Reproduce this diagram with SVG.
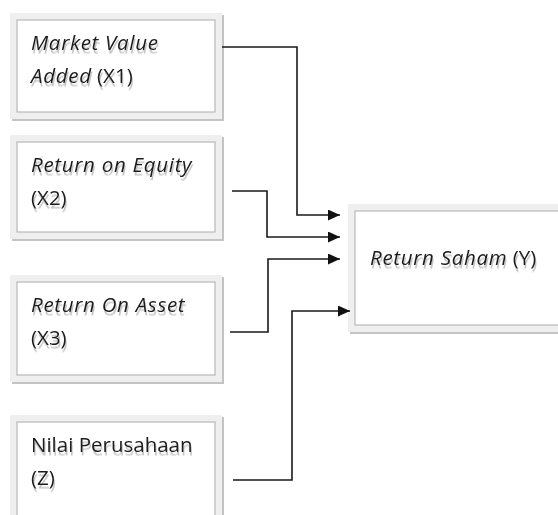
<svg xmlns="http://www.w3.org/2000/svg" width="558" height="515" viewBox="0 0 558 515">
<defs>
<style>
.shadow{fill:#c4c4c4}
.frame{fill:#efefef}
.inner{fill:#ffffff;stroke:#b8b8b8;stroke-width:1.2}
.t{font-family:"Open Sans","Liberation Sans",sans-serif;font-size:20.5px;fill:#1a1a1a;filter:url(#ts)}
.i{font-style:italic;letter-spacing:0.7px}
.c{fill:none;stroke:#1a1a1a;stroke-width:1.6}
</style>
<filter id="ts" x="-10%" y="-30%" width="130%" height="180%">
<feDropShadow dx="1" dy="3.5" stdDeviation="0.7" flood-color="#888" flood-opacity="0.5"/>
</filter>
<marker id="ah" viewBox="0 0 12 11" refX="12" refY="5.5" markerWidth="12" markerHeight="11" markerUnits="userSpaceOnUse" orient="auto">
<path d="M0,0 L12,5.5 L0,11 Z" fill="#111"/>
</marker>
</defs>
<rect width="558" height="515" fill="#ffffff"/>
<g id="x1">
<rect class="shadow" x="12" y="15" width="212" height="106"/>
<rect class="frame" x="10" y="13" width="212" height="106"/>
<rect class="inner" x="17" y="20" width="198" height="92"/>
<text class="t i" x="31" y="50">Market Value</text>
<text class="t" x="31" y="83"><tspan class="i">Added</tspan> (X1)</text>
</g>
<g id="x2">
<rect class="shadow" x="12" y="137" width="212" height="104"/>
<rect class="frame" x="10" y="135" width="212" height="104"/>
<rect class="inner" x="17" y="142" width="198" height="90"/>
<text class="t i" x="31" y="172">Return on Equity</text>
<text class="t" x="31" y="205">(X2)</text>
</g>
<g id="x3">
<rect class="shadow" x="12" y="277" width="212" height="107"/>
<rect class="frame" x="10" y="275" width="212" height="107"/>
<rect class="inner" x="17" y="282" width="198" height="93"/>
<text class="t i" x="31" y="312">Return On Asset</text>
<text class="t" x="31" y="345">(X3)</text>
</g>
<g id="z">
<rect class="shadow" x="12" y="417" width="212" height="120"/>
<rect class="frame" x="10" y="415" width="212" height="120"/>
<rect class="inner" x="17" y="422" width="198" height="120"/>
<text class="t" x="31" y="452">Nilai Perusahaan</text>
<text class="t" x="31" y="485">(Z)</text>
</g>
<g id="y">
<rect class="shadow" x="350" y="206" width="220" height="128"/>
<rect class="frame" x="348" y="204" width="220" height="128"/>
<rect class="inner" x="355" y="211" width="220" height="114"/>
<text class="t" x="370" y="265"><tspan class="i">Return Saham</tspan> (Y)</text>
</g>
<g id="connectors">
<polyline class="c" points="222,47 297,47 297,215 340,215" marker-end="url(#ah)"/>
<polyline class="c" points="232,191 267,191 267,237 340,237" marker-end="url(#ah)"/>
<polyline class="c" points="230,332 268,332 268,259 340,259" marker-end="url(#ah)"/>
<polyline class="c" points="233,480 292,480 292,311 350,311" marker-end="url(#ah)"/>
</g>
</svg>
